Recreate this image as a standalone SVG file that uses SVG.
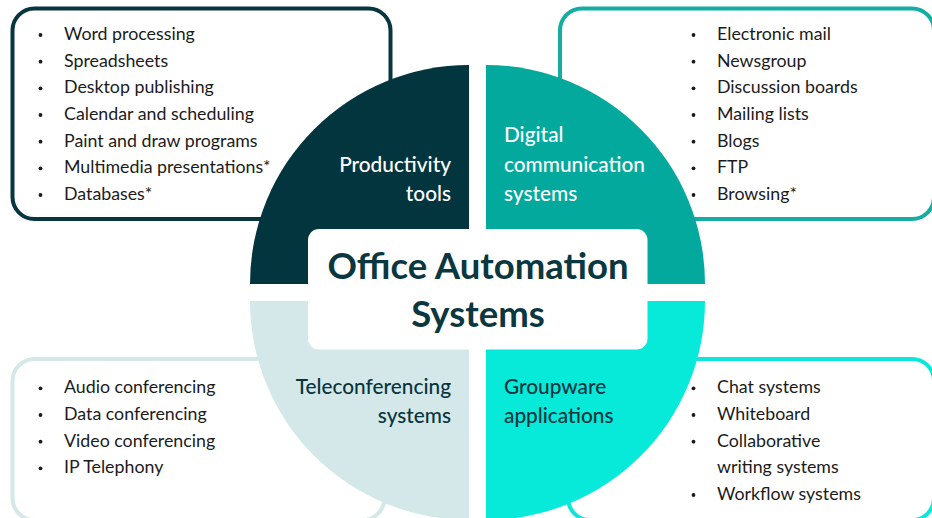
<svg xmlns="http://www.w3.org/2000/svg" width="932" height="518" viewBox="0 0 932 518">
<style>
.box{fill:#fff;stroke-width:4}
.li{font-family:Lato,"Liberation Sans",sans-serif;font-size:17.8px;fill:#1b1b1b}
.lbl{font-family:Lato,"Liberation Sans",sans-serif;font-size:20.8px;font-weight:500}
.w{fill:#fff}
.d{fill:#07343e}
.bul{fill:#1b1b1b}
.title{font-family:Lato,"Liberation Sans",sans-serif;font-size:36.5px;font-weight:bold;fill:#0b3741}
</style>
<rect width="932" height="518" fill="#fff"/>
<g id="box-productivity">
<rect class="box" x="12.5" y="8.5" width="378" height="210.5" rx="22" stroke="#073540"/>
<g class="bul"><circle cx="40.5" cy="35" r="1.9"/><circle cx="40.5" cy="61.7" r="1.9"/><circle cx="40.5" cy="88.3" r="1.9"/><circle cx="40.5" cy="115" r="1.9"/><circle cx="40.5" cy="141.7" r="1.9"/><circle cx="40.5" cy="168.3" r="1.9"/><circle cx="40.5" cy="195" r="1.9"/></g>
<text class="li" x="64" y="40">Word processing</text>
<text class="li" x="64" y="66.7">Spreadsheets</text>
<text class="li" x="64" y="93.3">Desktop publishing</text>
<text class="li" x="64" y="120">Calendar and scheduling</text>
<text class="li" x="64" y="146.7">Paint and draw programs</text>
<text class="li" x="64" y="173.3">Multimedia presentations*</text>
<text class="li" x="64" y="200">Databases*</text>
</g>
<g id="box-digital">
<rect class="box" x="560" y="8.5" width="374" height="210.5" rx="22" stroke="#14ada2"/>
<g class="bul"><circle cx="693.5" cy="35" r="1.9"/><circle cx="693.5" cy="61.7" r="1.9"/><circle cx="693.5" cy="88.3" r="1.9"/><circle cx="693.5" cy="115" r="1.9"/><circle cx="693.5" cy="141.7" r="1.9"/><circle cx="693.5" cy="168.3" r="1.9"/><circle cx="693.5" cy="195" r="1.9"/></g>
<text class="li" x="717" y="40">Electronic mail</text>
<text class="li" x="717" y="66.7">Newsgroup</text>
<text class="li" x="717" y="93.3">Discussion boards</text>
<text class="li" x="717" y="120">Mailing lists</text>
<text class="li" x="717" y="146.7">Blogs</text>
<text class="li" x="717" y="173.3">FTP</text>
<text class="li" x="717" y="200">Browsing*</text>
</g>
<g id="box-teleconf">
<rect class="box" x="12.5" y="359" width="372" height="161" rx="22" stroke="#d4e8e8"/>
<g class="bul"><circle cx="40.5" cy="388.3" r="1.9"/><circle cx="40.5" cy="415" r="1.9"/><circle cx="40.5" cy="441.7" r="1.9"/><circle cx="40.5" cy="468.3" r="1.9"/></g>
<text class="li" x="64" y="393.3">Audio conferencing</text>
<text class="li" x="64" y="420">Data conferencing</text>
<text class="li" x="64" y="446.7">Video conferencing</text>
<text class="li" x="64" y="473.3">IP Telephony</text>
</g>
<g id="box-groupware">
<rect class="box" x="568" y="359" width="366" height="161" rx="22" stroke="#0de6d8"/>
<g class="bul"><circle cx="693.5" cy="388.3" r="1.9"/><circle cx="693.5" cy="415" r="1.9"/><circle cx="693.5" cy="441.7" r="1.9"/><circle cx="693.5" cy="495" r="1.9"/></g>
<text class="li" x="717" y="393.3">Chat systems</text>
<text class="li" x="717" y="420">Whiteboard</text>
<text class="li" x="717" y="446.7">Collaborative</text>
<text class="li" x="717" y="473.3">writing systems</text>
<text class="li" x="717" y="500">Workflow systems</text>
</g>
<g id="q-productivity">
<path d="M469,284 L250,284 A219,219 0 0 1 469,65 Z" fill="#03353f"/>
<text class="lbl w" x="451" y="172" text-anchor="end">Productivity</text>
<text class="lbl w" x="451" y="200.5" text-anchor="end">tools</text>
</g>
<g id="q-digital">
<path d="M486,284 L486,65 A219,219 0 0 1 705,284 Z" fill="#04a99d"/>
<text class="lbl w" x="504" y="142">Digital</text>
<text class="lbl w" x="504" y="172">communication</text>
<text class="lbl w" x="504" y="200.5">systems</text>
</g>
<g id="q-teleconf">
<path d="M469,301 L469,520 A219,219 0 0 1 250,301 Z" fill="#d4e8e9"/>
<text class="lbl d" x="451" y="394" text-anchor="end">Teleconferencing</text>
<text class="lbl d" x="451" y="423.3" text-anchor="end">systems</text>
</g>
<g id="q-groupware">
<path d="M486,301 L705,301 A219,219 0 0 1 486,520 Z" fill="#07e9d9"/>
<text class="lbl d" x="504" y="394">Groupware</text>
<text class="lbl d" x="504" y="423.3">applications</text>
</g>
<g id="center-title">
<rect x="308" y="229" width="339.5" height="120.5" rx="11" fill="#fff"/>
<text class="title" x="478" y="279" text-anchor="middle">Office Automation</text>
<text class="title" x="478" y="327" text-anchor="middle">Systems</text>
</g>
</svg>
